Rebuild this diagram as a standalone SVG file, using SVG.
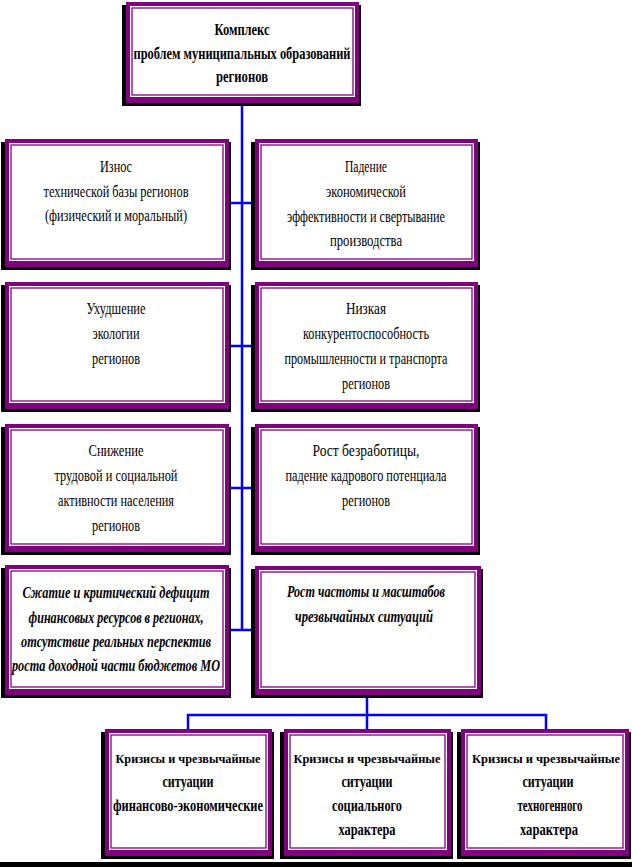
<svg xmlns="http://www.w3.org/2000/svg" width="632" height="867" viewBox="0 0 632 867">
<style>
.sh{fill:#000}
.pu{fill:#800080}
.wh{fill:#fff}
.ln{fill:none;stroke:#800080;stroke-width:1.3}
text{font-family:"Liberation Serif","Times New Roman",serif;font-size:16.5px;fill:#000;text-anchor:middle}
.b{font-weight:bold}
.bi{font-weight:bold;font-style:italic}
.k{font-size:13px}
.c{fill:none;stroke:#0000FF;stroke-width:2.5}
</style>
<rect x="0" y="0" width="632" height="867" fill="#fff"/>
<g id="connectors">
<path class="c" d="M242,103 V630 M229,203 H255 M229,346 H255 M229,488 H255 M229,630 H255"/>
<path class="c" d="M367,695 V729 M188,729 V715 H546 V729"/>
</g>
<g id="n0">
<rect class="sh" x="122" y="5" width="239" height="101"/>
<rect class="pu" x="126" y="2" width="233" height="101"/>
<rect class="wh" x="130" y="6" width="225" height="91"/>
<rect class="ln" x="132" y="8" width="221" height="87"/>
<text class="b" x="242" y="35" textLength="55" lengthAdjust="spacingAndGlyphs">Комплекс</text>
<text class="b" x="242" y="59" textLength="217" lengthAdjust="spacingAndGlyphs">проблем муниципальных образований</text>
<text class="b" x="242" y="82" textLength="52" lengthAdjust="spacingAndGlyphs">регионов</text>
</g>
<g id="n1">
<rect class="sh" x="1" y="142" width="230" height="128"/>
<rect class="pu" x="5" y="139" width="224" height="128"/>
<rect class="wh" x="9" y="143" width="216" height="118"/>
<rect class="ln" x="11" y="145" width="212" height="114"/>
<text x="116" y="172" textLength="32" lengthAdjust="spacingAndGlyphs">Износ</text>
<text x="116" y="197" textLength="145" lengthAdjust="spacingAndGlyphs">технической базы регионов</text>
<text x="116" y="221" textLength="142" lengthAdjust="spacingAndGlyphs">(физический и моральный)</text>
</g>
<g id="n2">
<rect class="sh" x="251" y="142" width="229" height="128"/>
<rect class="pu" x="255" y="139" width="223" height="128"/>
<rect class="wh" x="259" y="143" width="215" height="118"/>
<rect class="ln" x="261" y="145" width="211" height="114"/>
<text x="366" y="172" textLength="42" lengthAdjust="spacingAndGlyphs">Падение</text>
<text x="366" y="197" textLength="80" lengthAdjust="spacingAndGlyphs">экономической</text>
<text x="366" y="222" textLength="158" lengthAdjust="spacingAndGlyphs">эффективности и свертывание</text>
<text x="366" y="246" textLength="72" lengthAdjust="spacingAndGlyphs">производства</text>
</g>
<g id="n3">
<rect class="sh" x="1" y="285" width="230" height="127"/>
<rect class="pu" x="5" y="282" width="224" height="127"/>
<rect class="wh" x="9" y="286" width="216" height="117"/>
<rect class="ln" x="11" y="288" width="212" height="113"/>
<text x="116" y="314" textLength="59" lengthAdjust="spacingAndGlyphs">Ухудшение</text>
<text x="116" y="339" textLength="47" lengthAdjust="spacingAndGlyphs">экологии</text>
<text x="116" y="364" textLength="48" lengthAdjust="spacingAndGlyphs">регионов</text>
</g>
<g id="n4">
<rect class="sh" x="251" y="285" width="229" height="127"/>
<rect class="pu" x="255" y="282" width="223" height="127"/>
<rect class="wh" x="259" y="286" width="215" height="117"/>
<rect class="ln" x="261" y="288" width="211" height="113"/>
<text x="366" y="314" textLength="40" lengthAdjust="spacingAndGlyphs">Низкая</text>
<text x="366" y="339" textLength="126" lengthAdjust="spacingAndGlyphs">конкурентоспособность</text>
<text x="366" y="364" textLength="163" lengthAdjust="spacingAndGlyphs">промышленности и транспорта</text>
<text x="366" y="389" textLength="48" lengthAdjust="spacingAndGlyphs">регионов</text>
</g>
<g id="n5">
<rect class="sh" x="1" y="427" width="230" height="128"/>
<rect class="pu" x="5" y="424" width="224" height="128"/>
<rect class="wh" x="9" y="428" width="216" height="118"/>
<rect class="ln" x="11" y="430" width="212" height="114"/>
<text x="116" y="456" textLength="55" lengthAdjust="spacingAndGlyphs">Снижение</text>
<text x="116" y="481" textLength="123" lengthAdjust="spacingAndGlyphs">трудовой и социальной</text>
<text x="116" y="506" textLength="116" lengthAdjust="spacingAndGlyphs">активности населения</text>
<text x="116" y="531" textLength="48" lengthAdjust="spacingAndGlyphs">регионов</text>
</g>
<g id="n6">
<rect class="sh" x="251" y="427" width="229" height="128"/>
<rect class="pu" x="255" y="424" width="223" height="128"/>
<rect class="wh" x="259" y="428" width="215" height="118"/>
<rect class="ln" x="261" y="430" width="211" height="114"/>
<text x="366" y="456" textLength="107" lengthAdjust="spacingAndGlyphs">Рост безработицы,</text>
<text x="366" y="481" textLength="161" lengthAdjust="spacingAndGlyphs">падение кадрового потенциала</text>
<text x="366" y="506" textLength="48" lengthAdjust="spacingAndGlyphs">регионов</text>
</g>
<g id="n7">
<rect class="sh" x="1" y="568" width="230" height="130"/>
<rect class="pu" x="5" y="565" width="224" height="130"/>
<rect class="wh" x="9" y="569" width="216" height="120"/>
<rect class="ln" x="11" y="571" width="212" height="116"/>
<text class="bi" x="116" y="598" textLength="187" lengthAdjust="spacingAndGlyphs">Сжатие  и критический дефицит</text>
<text class="bi" x="116" y="623" textLength="175" lengthAdjust="spacingAndGlyphs">финансовых ресурсов в регионах,</text>
<text class="bi" x="116" y="647" textLength="190" lengthAdjust="spacingAndGlyphs">отсутствие реальных перспектив</text>
<text class="bi" x="116" y="671" textLength="208" lengthAdjust="spacingAndGlyphs">роста доходной части бюджетов МО</text>
</g>
<g id="n8">
<rect class="sh" x="251" y="569" width="232" height="129"/>
<rect class="pu" x="255" y="566" width="226" height="129"/>
<rect class="wh" x="259" y="570" width="218" height="119"/>
<rect class="ln" x="261" y="572" width="214" height="115"/>
<text class="bi" x="366" y="597" textLength="158" lengthAdjust="spacingAndGlyphs">Рост частоты и масштабов</text>
<text class="bi" x="364" y="622" textLength="138" lengthAdjust="spacingAndGlyphs">чрезвычайных ситуаций</text>
</g>
<g id="n9">
<rect class="sh" x="101" y="732" width="173" height="127"/>
<rect class="pu" x="105" y="729" width="167" height="127"/>
<rect class="wh" x="109" y="733" width="159" height="117"/>
<rect class="ln" x="111" y="735" width="155" height="113"/>
<text class="b k" x="188" y="763" textLength="145" lengthAdjust="spacingAndGlyphs">Кризисы и чрезвычайные</text>
<text class="b" x="188" y="787" textLength="51" lengthAdjust="spacingAndGlyphs">ситуации</text>
<text class="b" x="188" y="811" textLength="150" lengthAdjust="spacingAndGlyphs">финансово-экономические</text>
</g>
<g id="n10">
<rect class="sh" x="280" y="732" width="173" height="127"/>
<rect class="pu" x="284" y="729" width="167" height="127"/>
<rect class="wh" x="288" y="733" width="159" height="117"/>
<rect class="ln" x="290" y="735" width="155" height="113"/>
<text class="b k" x="367" y="763" textLength="147" lengthAdjust="spacingAndGlyphs">Кризисы и чрезвычайные</text>
<text class="b" x="367" y="787" textLength="51" lengthAdjust="spacingAndGlyphs">ситуации</text>
<text class="b" x="367" y="811" textLength="70" lengthAdjust="spacingAndGlyphs">социального</text>
<text class="b" x="367" y="835" textLength="57" lengthAdjust="spacingAndGlyphs">характера</text>
</g>
<g id="n11">
<rect class="sh" x="457" y="732" width="174" height="127"/>
<rect class="pu" x="461" y="729" width="168" height="127"/>
<rect class="wh" x="465" y="733" width="160" height="117"/>
<rect class="ln" x="467" y="735" width="156" height="113"/>
<text class="b k" x="546" y="763" textLength="148" lengthAdjust="spacingAndGlyphs">Кризисы и чрезвычайные</text>
<text class="b" x="548" y="787" textLength="51" lengthAdjust="spacingAndGlyphs">ситуации</text>
<text class="b" x="550" y="811" textLength="65" lengthAdjust="spacingAndGlyphs">техногенного</text>
<text class="b" x="549" y="835" textLength="58" lengthAdjust="spacingAndGlyphs">характера</text>
</g>
<rect x="0" y="862" width="632" height="5" fill="#000"/>
</svg>
